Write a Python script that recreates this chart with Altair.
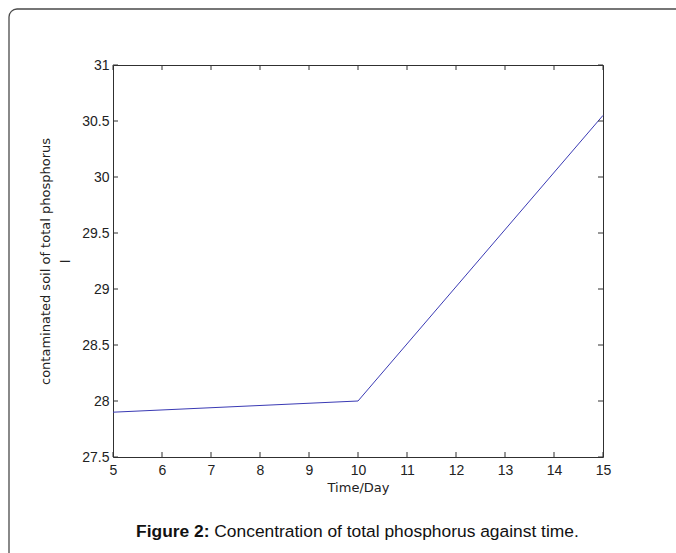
import altair as alt
import pandas as pd

# ---- data ----
days = [5, 10, 15]
phosphorus = [27.9, 28.0, 30.55]
x_ticks = [5, 6, 7, 8, 9, 10, 11, 12, 13, 14, 15]
y_ticks = [27.5, 28, 28.5, 29, 29.5, 30, 30.5, 31]
x_title = "Time/Day"
y_title = ["contaminated soil of total phosphorus", "l"]
caption_bold = ["Figure 2:"]
caption_text = ["Concentration of total phosphorus against time."]

W, H = 490, 392
FONT = "DejaVu Sans"
LFONT = "Liberation Sans"
FS = 13
AX = "#303030"
LBL = "#222222"

df = pd.DataFrame({"day": days, "tp": phosphorus})
xt = pd.DataFrame({"day": x_ticks})
yt = pd.DataFrame({"tp": y_ticks})
capb = pd.DataFrame({"t": caption_bold})
capt = pd.DataFrame({"t": caption_text})
one = pd.DataFrame({"a": [0]})

xscale = alt.Scale(domain=[5, 15], nice=False, zero=False)
yscale = alt.Scale(domain=[27.5, 31], nice=False, zero=False)

xaxis = alt.Axis(
    values=x_ticks, title=x_title, grid=False, ticks=False, tickSize=0,
    domain=False, format="d", labelFont=LFONT, labelFontSize=14,
    labelColor=LBL, labelPadding=6, titleFont=FONT, titleFontSize=FS,
    titleFontWeight="normal", titleColor=LBL, titlePadding=4,
    labelFlush=False)
yaxis = alt.Axis(
    values=y_ticks, title=y_title, grid=False, ticks=False, tickSize=0,
    domain=False, format=".1~f", labelFont=LFONT, labelFontSize=14,
    labelColor=LBL, labelPadding=4, titleFont=FONT, titleFontSize=FS,
    titleFontWeight="normal", titleColor=LBL, titlePadding=9,
    titleLineHeight=20, labelFlush=False)

line = alt.Chart(df).mark_line(color="#3a3ab4", strokeWidth=1).encode(
    x=alt.X("day:Q", scale=xscale, axis=xaxis),
    y=alt.Y("tp:Q", scale=yscale, axis=yaxis),
)

tick_len = 5
bottom_ticks = alt.Chart(xt).mark_rule(color=AX, strokeWidth=1).encode(
    x=alt.X("day:Q", scale=xscale, axis=xaxis),
    y=alt.value(H), y2=alt.value(H - tick_len))
top_ticks = alt.Chart(xt).mark_rule(color=AX, strokeWidth=1).encode(
    x=alt.X("day:Q", scale=xscale, axis=xaxis),
    y=alt.value(0), y2=alt.value(tick_len))
left_ticks = alt.Chart(yt).mark_rule(color=AX, strokeWidth=1).encode(
    y=alt.Y("tp:Q", scale=yscale, axis=yaxis),
    x=alt.value(0), x2=alt.value(tick_len))
right_ticks = alt.Chart(yt).mark_rule(color=AX, strokeWidth=1).encode(
    y=alt.Y("tp:Q", scale=yscale, axis=yaxis),
    x=alt.value(W), x2=alt.value(W - tick_len))

frame = alt.Chart(one).mark_rect(
    filled=False, stroke="#4a4a4a", strokeWidth=1.3, cornerRadius=8
).encode(x=alt.value(-104), y=alt.value(-56),
         x2=alt.value(W + 160), y2=alt.value(H + 160))

cap1 = alt.Chart(capb).mark_text(
    align="right", baseline="alphabetic", font="Liberation Sans",
    fontSize=17.4, fontWeight="bold", color="#111111"
).encode(text="t:N", x=alt.value(96.5), y=alt.value(472))
cap2 = alt.Chart(capt).mark_text(
    align="left", baseline="alphabetic", font="Liberation Sans",
    fontSize=17.4, color="#111111"
).encode(text="t:N", x=alt.value(101.3), y=alt.value(472))

chart = alt.layer(
    line, bottom_ticks, top_ticks, left_ticks, right_ticks, frame, cap1, cap2
).properties(
    width=W, height=H,
    autosize=alt.AutoSizeParams(type="none"),
    padding={"left": 113, "top": 65, "right": 73, "bottom": 96},
    background="white",
).configure_view(stroke=AX, strokeWidth=1)

chart.save("out.html", embed_options={"renderer": "svg", "actions": False})
